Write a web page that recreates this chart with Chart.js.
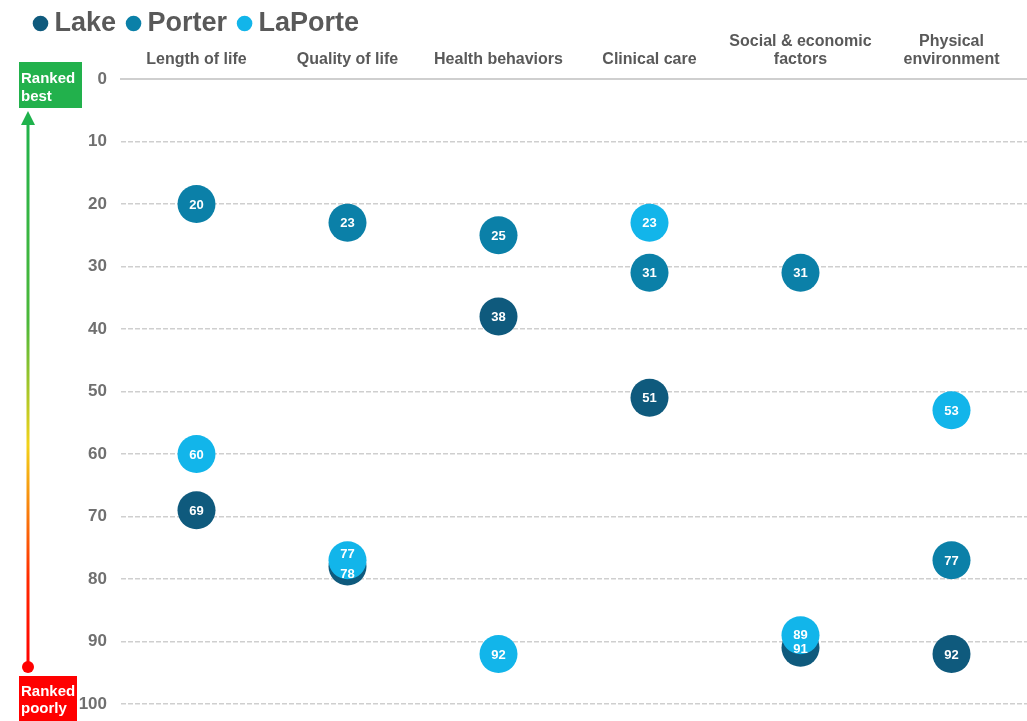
<!DOCTYPE html>
<html>
<head>
<meta charset="utf-8">
<title>County Health Rankings</title>
<script src="https://cdn.jsdelivr.net/npm/chart.js@4/dist/chart.umd.min.js"></script>
<style>
  html, body { margin: 0; padding: 0; background: #fff; overflow: hidden; }
  #wrap { position: relative; width: 1027px; height: 721px; }
  canvas { display: block; }
</style>
</head>
<body>
<div id="wrap"><canvas id="rankChart"></canvas></div>
<script>
const categories = [
  "Length of life",
  "Quality of life",
  "Health behaviors",
  "Clinical care",
  ["Social & economic", "factors"],
  ["Physical", "environment"],
];
const countyNames = ["Lake", "Porter", "LaPorte"];
const lakeRanks = [69, 78, 38, 51, 91, 92];
const porterRanks = [20, 23, 25, 31, 31, 77];
const laporteRanks = [60, 77, 92, 23, 89, 53];
const rankTicks = [0, 10, 20, 30, 40, 50, 60, 70, 80, 90, 100];

const FONT = "'Liberation Sans', Arial, sans-serif";
const colors = ["#0f5a7d", "#0b80a8", "#12b5ea"];
const PAD_TOP = -7;
const LEGEND_H = 40;

// keep the legend box short so the two-line category labels have room
const shortLegend = {
  id: "shortLegend",
  afterInit(chart) {
    const lg = chart.legend;
    if (!lg) return;
    const fit = lg.fit;
    lg.fit = function () {
      fit.call(this);
      this.height = LEGEND_H;
    };
  },
};

// draws the rank numbers on top of all the circles
const rankLabels = {
  id: "rankLabels",
  afterDatasetsDraw(chart) {
    const ctx = chart.ctx;
    ctx.save();
    ctx.font = "bold 13px " + FONT;
    ctx.fillStyle = "#fff";
    ctx.textAlign = "center";
    ctx.textBaseline = "middle";
    categories.forEach((c, i) => {
      const items = chart.data.datasets.map((ds, d) => {
        const pt = chart.getDatasetMeta(d).data[i];
        return { x: pt.x, y: pt.y, text: String(ds.data[i]) };
      });
      items.sort((a, b) => a.y - b.y);
      // push apart labels that would sit on each other
      for (let k = 1; k < items.length; k++) {
        const gap = items[k].y - items[k - 1].y;
        if (gap < 14) {
          const mid = (items[k].y + items[k - 1].y) / 2;
          const half = gap < 8 ? 10 : 7;
          items[k - 1].y = mid - half;
          items[k].y = mid + half;
        }
      }
      items.forEach((it) => ctx.fillText(it.text, it.x, it.y + 1));
    });
    ctx.restore();
  },
};

// "Ranked best" / "Ranked poorly" markers and arrow on the left
const rankArrow = {
  id: "rankArrow",
  afterDraw(chart) {
    const ctx = chart.ctx;
    ctx.save();
    const x = 28;
    const grad = ctx.createLinearGradient(0, 112, 0, 667);
    grad.addColorStop(0, "#1fb24c");
    grad.addColorStop(0.38, "#4cb83a");
    grad.addColorStop(0.6, "#f2d21a");
    grad.addColorStop(0.84, "#ff2a00");
    grad.addColorStop(1, "#ff0000");
    ctx.strokeStyle = grad;
    ctx.lineWidth = 3;
    ctx.beginPath();
    ctx.moveTo(x, 122);
    ctx.lineTo(x, 667);
    ctx.stroke();

    ctx.fillStyle = "#1fb24c";
    ctx.beginPath();
    ctx.moveTo(x, 111);
    ctx.lineTo(x - 7, 125);
    ctx.lineTo(x + 7, 125);
    ctx.closePath();
    ctx.fill();

    ctx.fillStyle = "#ff0000";
    ctx.beginPath();
    ctx.arc(x, 667, 6, 0, Math.PI * 2);
    ctx.fill();

    ctx.fillStyle = "#22b14c";
    ctx.fillRect(19, 62, 63, 46);
    ctx.fillStyle = "#ff0000";
    ctx.fillRect(19, 676, 58, 45);

    ctx.fillStyle = "#fff";
    ctx.font = "bold 15px " + FONT;
    ctx.textAlign = "left";
    ctx.textBaseline = "middle";
    ctx.fillText("Ranked", 21, 79);
    ctx.fillText("best", 21, 97);
    ctx.fillText("Ranked", 21, 692);
    ctx.fillText("poorly", 21, 709);
    ctx.restore();
  },
};

const ctx = document.getElementById("rankChart").getContext("2d");

new Chart(ctx, {
  type: "line",
  data: {
    labels: categories,
    datasets: [lakeRanks, porterRanks, laporteRanks].map((vals, i) => ({
      label: countyNames[i],
      data: vals,
      showLine: false,
      backgroundColor: colors[i],
      borderColor: colors[i],
      pointRadius: 19,
      pointHoverRadius: 19,
      pointBorderWidth: 0,
      order: 3 - i,
      clip: false,
    })),
  },
  options: {
    responsive: true,
    maintainAspectRatio: false,
    animation: false,
    layout: {
      autoPadding: false,
      padding: { left: 23, right: 0, top: PAD_TOP, bottom: 17 },
    },
    scales: {
      x: {
        position: "top",
        offset: true,
        grid: { display: false, drawTicks: false },
        border: { display: true, color: "#cfcfcf", width: 2 },
        ticks: {
          padding: 11,
          color: "#595959",
          font: { family: FONT, size: 16, weight: "bold", lineHeight: 1.1 },
          maxRotation: 0,
          autoSkip: false,
        },
        afterFit(scale) {
          const lg = scale.chart.legend;
          scale.height = 79 - PAD_TOP - (lg ? lg.height : LEGEND_H);
          scale.paddingLeft = 0;
          scale.paddingRight = 0;
        },
      },
      y: {
        reverse: true,
        min: 0,
        max: 100,
        afterBuildTicks(scale) {
          scale.ticks = rankTicks.map((v) => ({ value: v }));
        },
        grid: {
          drawTicks: false,
          color: "#cfcfcf",
          lineWidth: 1.5,
        },
        border: { display: false, dash: [5, 2] },
        ticks: {
          padding: 14,
          color: "#707070",
          font: { family: FONT, size: 17, weight: "bold" },
        },
        afterFit(scale) {
          scale.width = 98;
          scale.paddingTop = 0;
          scale.paddingBottom = 0;
        },
      },
    },
    plugins: {
      legend: {
        display: true,
        position: "top",
        align: "start",
        labels: {
          usePointStyle: true,
          pointStyle: "circle",
          boxWidth: 1,
          boxHeight: 11,
          padding: 17,
          color: "#595959",
          font: { family: FONT, size: 27, weight: "bold", lineHeight: 0.5 },
          sort: (a, b) => a.datasetIndex - b.datasetIndex,
        },
      },
      tooltip: { enabled: false },
    },
  },
  plugins: [shortLegend, rankLabels, rankArrow],
});
</script>
</body>
</html>
